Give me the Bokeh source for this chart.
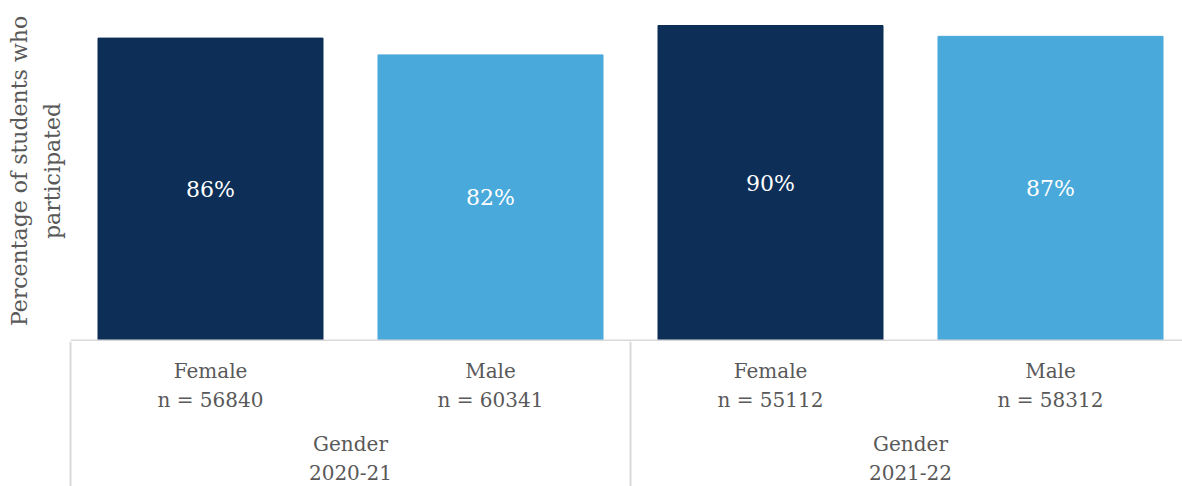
from bokeh.plotting import figure
from bokeh.layouts import column
from bokeh.models import ColumnDataSource, Range1d, FixedTicker, Span
from bokeh.core.properties import value
from bokeh.embed import file_html
from bokeh.resources import INLINE

# ---------------- data ----------------
years = ["2020-21", "2021-22"]
genders = ["Female", "Male"]
group_name = "Gender"
sample_sizes = [56840, 60341, 55112, 58312]
participation = [86.4, 81.6, 90.0, 86.9]          # percent
gender_colors = {"Female": "#0c2e57", "Male": "#49a9da"}
y_title = "Percentage of students who\nparticipated"

# ---------------- layout constants ----------------
W, H_TOP, H_BOT = 1182, 341, 145
LEFT = 70            # frame left edge (px)
SLOT = 280           # px per category slot
PX_PER_PCT = 3.5     # px per percentage point
FONT = "DejaVu Serif"
TXT = "#595959"
GRID = "#d9d9d9"

cats = [(y, g) for y in years for g in genders]
xpos = [i + 0.5 for i in range(len(cats))]
src = ColumnDataSource(dict(
    x=xpos,
    v=participation,
    mid=[v / 2 for v in participation],
    lbl=[f"{round(v)}%" for v in participation],
    color=[gender_colors[g] for _, g in cats],
    sub1=[g for _, g in cats],
    sub2=[f"n = {n}" for n in sample_sizes],
))

# ---------------- bar figure ----------------
p1 = figure(width=W, height=H_TOP,
            x_range=Range1d(0, (W - LEFT) / SLOT),
            y_range=Range1d(-1 / PX_PER_PCT, (H_TOP - 1) / PX_PER_PCT),
            x_axis_location=None,
            min_border_left=LEFT, min_border_right=0, min_border_top=0, min_border_bottom=0,
            output_backend="svg", toolbar_location=None)
p1.frame_align = False
p1.outline_line_color = None
p1.grid.visible = False

ya = p1.yaxis[0]
ya.ticker = FixedTicker(ticks=[])
ya.axis_line_color = None
ya.major_tick_out = 0
ya.major_tick_in = 0
ya.minor_tick_out = 0
ya.minor_tick_in = 0
ya.major_label_standoff = 0
ya.axis_label = y_title
ya.axis_label_text_font = FONT
ya.axis_label_text_font_size = "22px"
ya.axis_label_text_font_style = "normal"
ya.axis_label_text_color = TXT
ya.axis_label_text_line_height = 1.3
ya.axis_label_standoff = 6

p1.vbar(x="x", top="v", bottom=0, width=225 / SLOT, color="color", source=src)
p1.text(x="x", y="mid", text="lbl", source=src,
        text_align="center", text_baseline="middle", text_color="#ffffff",
        text_font=value(FONT), text_font_size=value("22px"))
p1.add_layout(Span(location=0, dimension="width", line_color=GRID, line_width=2))

# ---------------- category label table ----------------
p2 = figure(width=W, height=H_BOT,
            x_range=Range1d(-LEFT / SLOT, (W - LEFT) / SLOT),
            y_range=Range1d(H_BOT, 0),
            x_axis_location=None, y_axis_location=None,
            min_border_left=0, min_border_right=0, min_border_top=0, min_border_bottom=0,
            output_backend="svg", toolbar_location=None)
p2.frame_align = False
p2.outline_line_color = None
p2.grid.visible = False

n_sub = len(genders)
bounds = [i * n_sub for i in range(len(years) + 1)]
p2.segment(x0=bounds, y0=[0] * len(bounds), x1=bounds, y1=[H_BOT] * len(bounds),
           line_color=GRID, line_width=2)

label_style = dict(text_align="center", text_baseline="middle", text_color=TXT,
                   text_font=value(FONT), text_font_size=value("20px"))
p2.text(x="x", y=29.8, text="sub1", source=src, **label_style)
p2.text(x="x", y=58.5, text="sub2", source=src, **label_style)

gsrc = ColumnDataSource(dict(
    x=[sum(xpos[i * n_sub:(i + 1) * n_sub]) / n_sub for i in range(len(years))],
    g1=[group_name] * len(years),
    g2=years,
))
p2.text(x="x", y=102.3, text="g1", source=gsrc, **label_style)
p2.text(x="x", y=130.5, text="g2", source=gsrc, **label_style)

layout = column(p1, p2, spacing=0)
open("out.html", "w").write(file_html(layout, INLINE))
